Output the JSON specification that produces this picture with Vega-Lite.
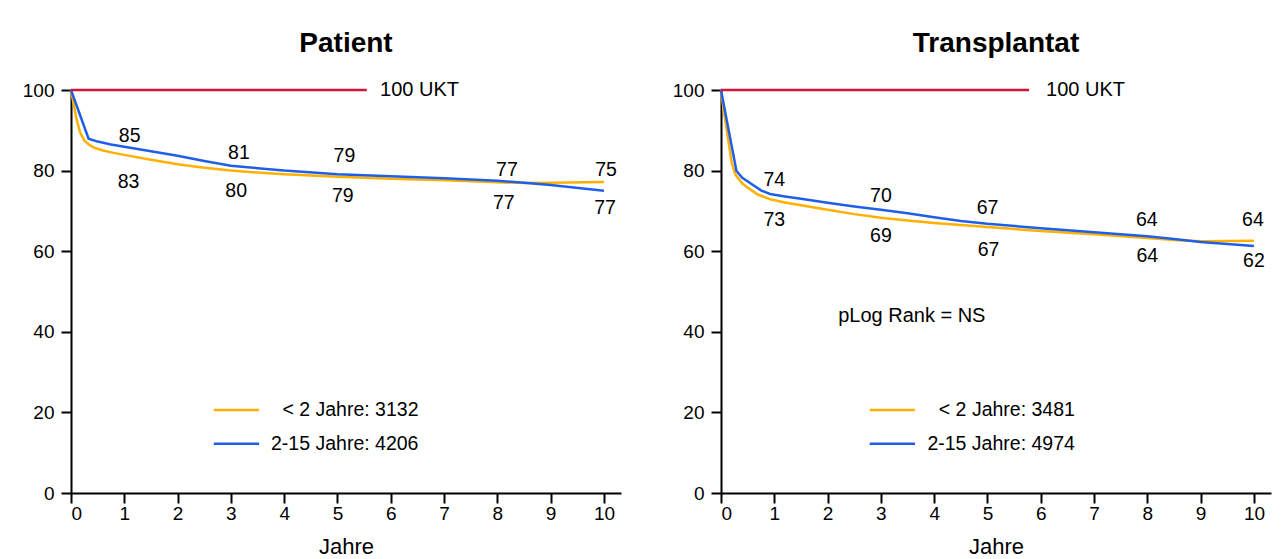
{
  "$schema": "https://vega.github.io/schema/vega-lite/v6.json",
  "background": "white",
  "padding": {"left": 22, "top": 30, "right": 5, "bottom": 5},
  "spacing": 51,
  "config": {
    "view": {"stroke": null},
    "font": "Liberation Sans",
    "axis": {
      "domainColor": "black", "domainWidth": 2, "tickColor": "black", "tickWidth": 2, "tickSize": 10,
      "labelColor": "black", "labelFont": "Liberation Sans", "labelFontSize": 19,
      "grid": false, "titleFont": "Liberation Sans", "titleFontSize": 22, "titleFontWeight": "normal", "titleColor": "black"
    },
    "axisX": {"labelPadding": 1, "titlePadding": 13},
    "axisY": {"labelPadding": 7},
    "title": {"fontSize": 28, "fontWeight": "bold", "font": "Liberation Sans", "color": "black", "anchor": "middle", "offset": 22},
    "text": {"font": "Liberation Sans", "color": "black"}
  },
  "datasets": {
    "pat": [
      {"g": "< 2 Jahre", "t": 0, "s": 100}, {"g": "< 2 Jahre", "t": 0.05, "s": 96.5}, {"g": "< 2 Jahre", "t": 0.1, "s": 93}, {"g": "< 2 Jahre", "t": 0.17, "s": 89.5}, {"g": "< 2 Jahre", "t": 0.25, "s": 87.5}, {"g": "< 2 Jahre", "t": 0.35, "s": 86.3}, {"g": "< 2 Jahre", "t": 0.45, "s": 85.6}, {"g": "< 2 Jahre", "t": 0.6, "s": 85.0}, {"g": "< 2 Jahre", "t": 0.8, "s": 84.4}, {"g": "< 2 Jahre", "t": 1, "s": 83.9}, {"g": "< 2 Jahre", "t": 1.5, "s": 82.7}, {"g": "< 2 Jahre", "t": 2, "s": 81.6}, {"g": "< 2 Jahre", "t": 2.5, "s": 80.7}, {"g": "< 2 Jahre", "t": 3, "s": 80.0}, {"g": "< 2 Jahre", "t": 3.5, "s": 79.5}, {"g": "< 2 Jahre", "t": 4, "s": 79.1}, {"g": "< 2 Jahre", "t": 5, "s": 78.5}, {"g": "< 2 Jahre", "t": 6, "s": 78.0}, {"g": "< 2 Jahre", "t": 7, "s": 77.6}, {"g": "< 2 Jahre", "t": 8, "s": 77.1}, {"g": "< 2 Jahre", "t": 8.5, "s": 76.9}, {"g": "< 2 Jahre", "t": 9, "s": 77.0}, {"g": "< 2 Jahre", "t": 10, "s": 77.2},
      {"g": "2-15 Jahre", "t": 0, "s": 100}, {"g": "2-15 Jahre", "t": 0.33, "s": 87.9}, {"g": "2-15 Jahre", "t": 0.5, "s": 87.2}, {"g": "2-15 Jahre", "t": 0.75, "s": 86.5}, {"g": "2-15 Jahre", "t": 1, "s": 85.9}, {"g": "2-15 Jahre", "t": 1.5, "s": 84.8}, {"g": "2-15 Jahre", "t": 2, "s": 83.7}, {"g": "2-15 Jahre", "t": 2.5, "s": 82.4}, {"g": "2-15 Jahre", "t": 3, "s": 81.2}, {"g": "2-15 Jahre", "t": 3.5, "s": 80.6}, {"g": "2-15 Jahre", "t": 4, "s": 80.0}, {"g": "2-15 Jahre", "t": 5, "s": 79.1}, {"g": "2-15 Jahre", "t": 6, "s": 78.6}, {"g": "2-15 Jahre", "t": 7, "s": 78.1}, {"g": "2-15 Jahre", "t": 8, "s": 77.5}, {"g": "2-15 Jahre", "t": 8.5, "s": 77.0}, {"g": "2-15 Jahre", "t": 9, "s": 76.4}, {"g": "2-15 Jahre", "t": 10, "s": 75.0}
    ],
    "tx": [
      {"g": "< 2 Jahre", "t": 0, "s": 100}, {"g": "< 2 Jahre", "t": 0.05, "s": 95}, {"g": "< 2 Jahre", "t": 0.12, "s": 89}, {"g": "< 2 Jahre", "t": 0.2, "s": 82}, {"g": "< 2 Jahre", "t": 0.27, "s": 79}, {"g": "< 2 Jahre", "t": 0.4, "s": 76.8}, {"g": "< 2 Jahre", "t": 0.54, "s": 75.4}, {"g": "< 2 Jahre", "t": 0.7, "s": 74.0}, {"g": "< 2 Jahre", "t": 0.92, "s": 72.9}, {"g": "< 2 Jahre", "t": 1.2, "s": 72.1}, {"g": "< 2 Jahre", "t": 1.5, "s": 71.4}, {"g": "< 2 Jahre", "t": 2, "s": 70.3}, {"g": "< 2 Jahre", "t": 2.5, "s": 69.2}, {"g": "< 2 Jahre", "t": 3, "s": 68.3}, {"g": "< 2 Jahre", "t": 3.5, "s": 67.6}, {"g": "< 2 Jahre", "t": 4, "s": 67.0}, {"g": "< 2 Jahre", "t": 5, "s": 66.0}, {"g": "< 2 Jahre", "t": 6, "s": 65.0}, {"g": "< 2 Jahre", "t": 7, "s": 64.2}, {"g": "< 2 Jahre", "t": 8, "s": 63.3}, {"g": "< 2 Jahre", "t": 8.5, "s": 62.8}, {"g": "< 2 Jahre", "t": 9, "s": 62.5}, {"g": "< 2 Jahre", "t": 10, "s": 62.6},
      {"g": "2-15 Jahre", "t": 0, "s": 100}, {"g": "2-15 Jahre", "t": 0.05, "s": 96.5}, {"g": "2-15 Jahre", "t": 0.29, "s": 79.9}, {"g": "2-15 Jahre", "t": 0.4, "s": 78.2}, {"g": "2-15 Jahre", "t": 0.58, "s": 76.6}, {"g": "2-15 Jahre", "t": 0.75, "s": 75.1}, {"g": "2-15 Jahre", "t": 0.92, "s": 74.2}, {"g": "2-15 Jahre", "t": 1.2, "s": 73.6}, {"g": "2-15 Jahre", "t": 1.5, "s": 73.0}, {"g": "2-15 Jahre", "t": 2, "s": 72.0}, {"g": "2-15 Jahre", "t": 2.5, "s": 71.1}, {"g": "2-15 Jahre", "t": 3, "s": 70.3}, {"g": "2-15 Jahre", "t": 3.5, "s": 69.4}, {"g": "2-15 Jahre", "t": 4, "s": 68.4}, {"g": "2-15 Jahre", "t": 4.5, "s": 67.5}, {"g": "2-15 Jahre", "t": 5, "s": 66.8}, {"g": "2-15 Jahre", "t": 6, "s": 65.7}, {"g": "2-15 Jahre", "t": 7, "s": 64.7}, {"g": "2-15 Jahre", "t": 8, "s": 63.7}, {"g": "2-15 Jahre", "t": 8.5, "s": 63.0}, {"g": "2-15 Jahre", "t": 9, "s": 62.3}, {"g": "2-15 Jahre", "t": 10, "s": 61.3}
    ],
    "pat_lab": [
      {"t": 1.1, "s": 88.6, "label": "85"}, {"t": 1.08, "s": 77.2, "label": "83"},
      {"t": 3.15, "s": 84.4, "label": "81"}, {"t": 3.1, "s": 74.9, "label": "80"},
      {"t": 5.13, "s": 83.5, "label": "79"}, {"t": 5.1, "s": 73.7, "label": "79"},
      {"t": 8.18, "s": 80.1, "label": "77"}, {"t": 8.12, "s": 72.0, "label": "77"},
      {"t": 10.04, "s": 80.1, "label": "75"}, {"t": 10.02, "s": 70.8, "label": "77"}
    ],
    "tx_lab": [
      {"t": 1.0, "s": 77.6, "label": "74"}, {"t": 1.0, "s": 67.7, "label": "73"},
      {"t": 3.0, "s": 73.7, "label": "70"}, {"t": 3.0, "s": 63.8, "label": "69"},
      {"t": 5.0, "s": 70.6, "label": "67"}, {"t": 5.02, "s": 60.2, "label": "67"},
      {"t": 7.99, "s": 67.7, "label": "64"}, {"t": 8.0, "s": 58.8, "label": "64"},
      {"t": 9.98, "s": 67.7, "label": "64"}, {"t": 10.0, "s": 57.6, "label": "62"}
    ],
    "pat_ukt": [{"t": 0, "t2": 5.55, "s": 100}],
    "tx_ukt": [{"t": 0, "t2": 5.78, "s": 100}],
    "pat_ukt_lab": [{"t": 5.8, "s": 100, "label": "100 UKT"}],
    "tx_ukt_lab": [{"t": 6.1, "s": 100, "label": "100 UKT"}],
    "pat_leg": [{"g": "< 2 Jahre", "t": 2.68, "t2": 3.53, "s": 20.6}, {"g": "2-15 Jahre", "t": 2.68, "t2": 3.53, "s": 12.2}],
    "tx_leg": [{"g": "< 2 Jahre", "t": 2.79, "t2": 3.64, "s": 20.6}, {"g": "2-15 Jahre", "t": 2.79, "t2": 3.64, "s": 12.2}],
    "pat_leg_lab": [{"t": 6.52, "s": 20.6, "label": "< 2 Jahre: 3132"}, {"t": 6.52, "s": 12.2, "label": "2-15 Jahre: 4206"}],
    "tx_leg_lab": [{"t": 6.64, "s": 20.6, "label": "< 2 Jahre: 3481"}, {"t": 6.64, "s": 12.2, "label": "2-15 Jahre: 4974"}],
    "tx_p": [{"t": 3.58, "s": 43.9, "label": "pLog Rank = NS"}]
  },
  "hconcat": [
    {
      "width": 550, "height": 403,
      "title": "Patient",
      "layer": [
        {
          "data": {"name": "pat"},
          "mark": {"type": "line", "strokeWidth": 2.5},
          "encoding": {
            "x": {"field": "t", "type": "quantitative", "scale": {"domain": [0, 10.32], "nice": false}, "axis": {"values": [0,1,2,3,4,5,6,7,8,9,10], "title": "Jahre"}},
            "y": {"field": "s", "type": "quantitative", "scale": {"domain": [0, 100], "nice": false}, "axis": {"values": [0,20,40,60,80,100], "title": null}},
            "color": {"field": "g", "type": "nominal", "scale": {"domain": ["< 2 Jahre", "2-15 Jahre"], "range": ["#FFB000", "#1F5FE8"]}, "legend": null}
          }
        },
        {
          "data": {"name": "pat_ukt"},
          "mark": {"type": "rule", "strokeWidth": 2.5, "color": "#D2143A"},
          "encoding": {"x": {"field": "t", "type": "quantitative"}, "x2": {"field": "t2"}, "y": {"field": "s", "type": "quantitative"}}
        },
        {
          "data": {"name": "pat_ukt_lab"},
          "mark": {"type": "text", "align": "left", "baseline": "middle", "fontSize": 20},
          "encoding": {"x": {"field": "t", "type": "quantitative"}, "y": {"field": "s", "type": "quantitative"}, "text": {"field": "label"}}
        },
        {
          "data": {"name": "pat_lab"},
          "mark": {"type": "text", "align": "center", "baseline": "middle", "fontSize": 19.5},
          "encoding": {"x": {"field": "t", "type": "quantitative"}, "y": {"field": "s", "type": "quantitative"}, "text": {"field": "label"}}
        },
        {
          "data": {"name": "pat_leg"},
          "mark": {"type": "rule", "strokeWidth": 2.5},
          "encoding": {"x": {"field": "t", "type": "quantitative"}, "x2": {"field": "t2"}, "y": {"field": "s", "type": "quantitative"}, "color": {"field": "g", "type": "nominal", "legend": null}}
        },
        {
          "data": {"name": "pat_leg_lab"},
          "mark": {"type": "text", "align": "right", "baseline": "middle", "fontSize": 19.5},
          "encoding": {"x": {"field": "t", "type": "quantitative"}, "y": {"field": "s", "type": "quantitative"}, "text": {"field": "label"}}
        }
      ]
    },
    {
      "width": 550, "height": 403,
      "title": "Transplantat",
      "layer": [
        {
          "data": {"name": "tx"},
          "mark": {"type": "line", "strokeWidth": 2.5},
          "encoding": {
            "x": {"field": "t", "type": "quantitative", "scale": {"domain": [0, 10.32], "nice": false}, "axis": {"values": [0,1,2,3,4,5,6,7,8,9,10], "title": "Jahre"}},
            "y": {"field": "s", "type": "quantitative", "scale": {"domain": [0, 100], "nice": false}, "axis": {"values": [0,20,40,60,80,100], "title": null}},
            "color": {"field": "g", "type": "nominal", "scale": {"domain": ["< 2 Jahre", "2-15 Jahre"], "range": ["#FFB000", "#1F5FE8"]}, "legend": null}
          }
        },
        {
          "data": {"name": "tx_ukt"},
          "mark": {"type": "rule", "strokeWidth": 2.5, "color": "#D2143A"},
          "encoding": {"x": {"field": "t", "type": "quantitative"}, "x2": {"field": "t2"}, "y": {"field": "s", "type": "quantitative"}}
        },
        {
          "data": {"name": "tx_ukt_lab"},
          "mark": {"type": "text", "align": "left", "baseline": "middle", "fontSize": 20},
          "encoding": {"x": {"field": "t", "type": "quantitative"}, "y": {"field": "s", "type": "quantitative"}, "text": {"field": "label"}}
        },
        {
          "data": {"name": "tx_lab"},
          "mark": {"type": "text", "align": "center", "baseline": "middle", "fontSize": 19.5},
          "encoding": {"x": {"field": "t", "type": "quantitative"}, "y": {"field": "s", "type": "quantitative"}, "text": {"field": "label"}}
        },
        {
          "data": {"name": "tx_p"},
          "mark": {"type": "text", "align": "center", "baseline": "middle", "fontSize": 20},
          "encoding": {"x": {"field": "t", "type": "quantitative"}, "y": {"field": "s", "type": "quantitative"}, "text": {"field": "label"}}
        },
        {
          "data": {"name": "tx_leg"},
          "mark": {"type": "rule", "strokeWidth": 2.5},
          "encoding": {"x": {"field": "t", "type": "quantitative"}, "x2": {"field": "t2"}, "y": {"field": "s", "type": "quantitative"}, "color": {"field": "g", "type": "nominal", "legend": null}}
        },
        {
          "data": {"name": "tx_leg_lab"},
          "mark": {"type": "text", "align": "right", "baseline": "middle", "fontSize": 19.5},
          "encoding": {"x": {"field": "t", "type": "quantitative"}, "y": {"field": "s", "type": "quantitative"}, "text": {"field": "label"}}
        }
      ]
    }
  ]
}
